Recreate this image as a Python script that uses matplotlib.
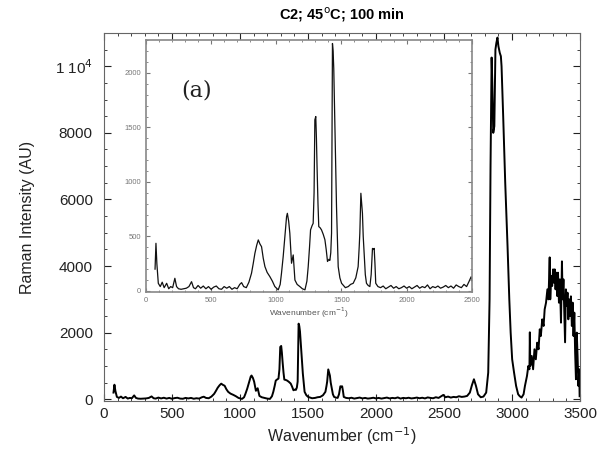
import matplotlib
matplotlib.use('Agg')
import matplotlib.pyplot as plt
from matplotlib.ticker import MultipleLocator

plt.rcParams['font.family'] = ['Liberation Sans', 'DejaVu Sans']

# Raman spectrum (wavenumber in cm-1, intensity in AU)
wavenumber = [70, 77, 84, 95, 110, 125, 140, 159, 175, 190, 205, 222, 235, 250,
              270, 290, 310, 330, 350, 365, 380, 400, 420, 440, 460, 480, 500,
              520, 540, 560, 580, 600, 620, 640, 660, 680, 700, 720, 734, 750,
              770, 790, 810, 823, 836, 850, 862, 875, 887, 900, 913, 930, 951,
              970, 989, 1015, 1030, 1040, 1053, 1066, 1079, 1085, 1095, 1104,
              1117, 1130, 1143, 1160, 1181, 1200, 1220, 1235, 1245, 1255, 1263,
              1275, 1283, 1290, 1296, 1303, 1308, 1313, 1320, 1326, 1336, 1347,
              1360, 1373, 1383, 1393, 1404, 1411, 1418, 1424, 1431, 1436, 1441,
              1450, 1462, 1475, 1488, 1501, 1515, 1530, 1552, 1570, 1590, 1610,
              1628, 1636, 1641, 1649, 1655, 1661, 1667, 1674, 1683, 1692, 1705,
              1718, 1728, 1738, 1745, 1751, 1757, 1763, 1780, 1800, 1820, 1840,
              1860, 1880, 1900, 1920, 1940, 1960, 1980, 2000, 2020, 2040, 2060,
              2080, 2100, 2120, 2140, 2160, 2180, 2200, 2220, 2240, 2260, 2280,
              2300, 2320, 2340, 2360, 2380, 2400, 2420, 2440, 2460, 2480, 2495,
              2510, 2530, 2550, 2570, 2590, 2610, 2630, 2650, 2670, 2690, 2705,
              2720, 2735, 2750, 2770, 2790, 2810, 2825, 2835, 2842, 2850, 2855,
              2862, 2870, 2878, 2885, 2893, 2900, 2910, 2918, 2923, 2935, 2950,
              2967, 2980, 2990, 3001, 3015, 3030, 3045, 3057, 3070, 3085, 3095,
              3110, 3120, 3128, 3131, 3134, 3145, 3155, 3165, 3175, 3185, 3195,
              3204, 3212, 3222, 3232, 3240, 3250, 3260, 3268, 3272, 3277, 3281,
              3288, 3295, 3302, 3308, 3314, 3320, 3326, 3332, 3338, 3345, 3352,
              3360, 3367, 3372, 3378, 3384, 3390, 3396, 3402, 3408, 3414, 3420,
              3426, 3433, 3440, 3446, 3452, 3458, 3464, 3470, 3476, 3482, 3488,
              3494, 3497]
intensity = [200, 437, 250, 70, 40, 80, 30, 70, 20, 40, 30, 116, 40, 20,
             15, 20, 25, 40, 85, 30, 20, 50, 25, 45, 20, 40, 15, 35,
             45, 20, 15, 40, 25, 40, 15, 30, 20, 60, 76, 40,
             30, 80, 162, 250, 345, 420, 468, 430, 406, 300, 223, 170, 131,
             90, 40, 10, 60, 162, 315, 500, 682, 712, 640, 529,
             254, 330, 100, 60, 40, 20, 10, 90, 223, 400, 560,
             600, 620, 900, 1570, 1600, 1400, 1130, 800, 590, 580, 560,
             520, 470, 380, 270, 290, 280, 350, 530, 2270, 2200, 2040,
             1500, 774, 223, 120, 70, 50, 30, 40, 60, 70, 120,
             223, 400, 530, 896, 800, 712, 500, 345, 150, 70, 50,
             40, 150, 390, 380, 390, 250, 70, 40, 30, 45, 20,
             35, 50, 25, 40, 20, 30, 45, 25, 40, 20, 35, 50,
             25, 40, 30, 55, 20, 40, 30, 45, 25, 35, 50,
             30, 45, 25, 55, 40, 30, 60, 40, 90, 130,
             60, 80, 50, 70, 60, 90, 70, 80, 100, 200, 420,
             600, 400, 150, 60, 80, 200, 800, 3000, 7000, 10260, 9500,
             8000, 8200, 10500, 10700, 10860, 10600, 10400, 10300, 10000, 8500, 6500,
             4600, 3000, 2000, 1200, 800, 400, 150, 90, 50, 150, 400,
             700, 1000, 900, 2010, 1000, 1300, 900, 1500, 1200, 1700, 1500,
             2100, 1900, 2400, 2200, 2700, 2900, 3300, 3000, 3600, 4260, 3000,
             3700, 3400, 3900, 3500, 3900, 3300, 3800, 3100, 3800, 2900, 3600,
             2300, 4140, 3000, 3600, 2600, 1710, 3300, 2800, 3200, 2400, 3000,
             2500, 3090, 2200, 2900, 1900, 2600, 1400, 600, 2000, 1300, 400,
             900, 90]

main_xticks = [0, 500, 1000, 1500, 2000, 2500, 3000, 3500]
main_yticks = [0, 2000, 4000, 6000, 8000, 10000]
main_ylabels = ['0', '2000', '4000', '6000', '8000', '1 10$^4$']
inset_xticks = [0, 500, 1000, 1500, 2000, 2500]
inset_yticks = [0, 500, 1000, 1500, 2000]

fig = plt.figure(figsize=(6.08, 4.57), dpi=100)
ax = fig.add_axes([0.171, 0.122, 0.783, 0.806])
ax.plot(wavenumber, intensity, color='black', lw=1.4)
ax.set_xlim(0, 3500)
ax.set_ylim(-60, 11000)
ax.set_xticks(main_xticks)
ax.set_yticks(main_yticks)
ax.set_yticklabels(main_ylabels)
ax.xaxis.set_minor_locator(MultipleLocator(100))
ax.yaxis.set_minor_locator(MultipleLocator(500))
ax.tick_params(which='both', direction='in', top=True, right=True, labelsize=11, colors='#222222')
ax.tick_params(which='major', length=5)
ax.tick_params(which='minor', length=2.5)
ax.tick_params(axis='x', pad=4)
ax.tick_params(axis='y', pad=8)
for s in ax.spines.values():
    s.set_color('#666666')
ax.set_xlabel('Wavenumber (cm$^{-1}$)', fontsize=11.5, color='#222222', labelpad=3)
ax.set_ylabel('Raman Intensity (AU)', fontsize=11.5, color='#222222', labelpad=14)
ax.set_title('C2; 45$^{\\rm o}$C; 100 min', fontsize=10.5, fontweight='bold', pad=10)

# inset zoom on the fingerprint region
ins = fig.add_axes([0.240, 0.361, 0.536, 0.551])
ins.plot(wavenumber, intensity, color='#111111', lw=0.9)
ins.set_xlim(0, 2500)
ins.set_ylim(-10, 2300)
ins.set_xticks(inset_xticks)
ins.set_yticks(inset_yticks)
ins.xaxis.set_minor_locator(MultipleLocator(100))
ins.yaxis.set_minor_locator(MultipleLocator(100))
ins.tick_params(which='both', direction='in', top=True, right=True, labelsize=5.5, colors='#777777')
ins.tick_params(which='major', length=3)
ins.tick_params(which='minor', length=1.5)
for s in ins.spines.values():
    s.set_color('#888888')
    s.set_linewidth(1.2)
ins.set_xlabel('Wavenumber (cm$^{-1}$)', fontsize=6, color='#555555', labelpad=1)
ins.text(0.155, 0.80, '(a)', transform=ins.transAxes, ha='center', va='center',
         fontsize=16, family='DejaVu Serif', color='#222222')

fig.savefig('out.png', dpi=100)
